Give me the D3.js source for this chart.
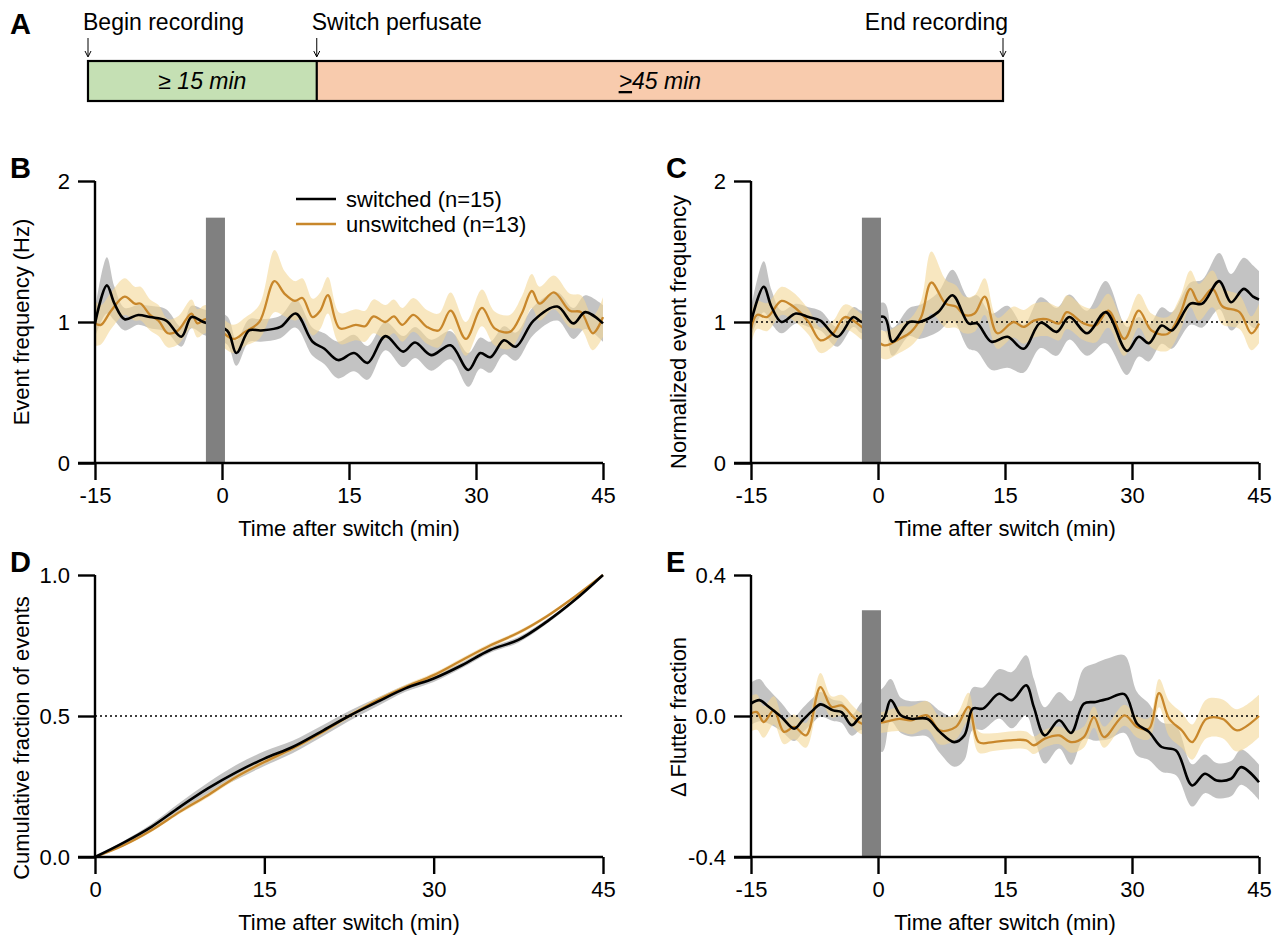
<!DOCTYPE html>
<html><head><meta charset="utf-8">
<script src="https://cdn.jsdelivr.net/npm/d3@7"></script>
<style>
body{margin:0;background:#fff;}
text{font-family:"Liberation Sans",Arial,sans-serif;fill:#000;}
</style></head>
<body>
<svg id="fig" width="1283" height="940"></svg>
<script>
// ---------------- DATA ----------------
// Panel B: event frequency (Hz)
const tB_sw = [-15,-13.6,-12.7,-11.5,-9.9,-8.5,-6.6,-4.8,-3.6,-2.2,0.6,1.7,3.2,4.6,6.9,8.7,10.7,12.1,13.7,15.6,17.2,19.3,21.4,22.8,24.7,27.0,29.1,30.5,31.7,33.3,34.7,36.8,39.6,41.5,42.9,45];
const mB_sw = [0.99,1.26,1.13,1.02,1.05,1.035,1.01,0.895,1.035,1.0,0.94,0.78,0.94,0.94,0.965,1.06,0.86,0.81,0.73,0.78,0.71,0.9,0.79,0.855,0.765,0.835,0.66,0.78,0.75,0.87,0.825,1.01,1.11,0.99,1.07,0.99];
const sB_sw = [0.1,0.2,0.12,0.08,0.07,0.08,0.08,0.07,0.08,0.09,0.1,0.09,0.08,0.08,0.08,0.1,0.1,0.11,0.13,0.13,0.12,0.1,0.11,0.11,0.11,0.1,0.12,0.11,0.11,0.1,0.1,0.1,0.1,0.11,0.12,0.13];
const tB_un = [-15,-14.3,-13.1,-11.5,-10.3,-9.6,-8.5,-7.5,-6.4,-5.2,-3.6,-2.9,-1.9,1.3,2.7,4.4,6.2,7.4,8.6,9.5,10.7,11.6,12.5,13.9,15.8,16.9,17.9,19.3,20.3,21.3,22.6,24.2,25.6,27,28.8,30.7,32.2,34,35.4,36.6,37.5,39.2,41.1,42.4,43.8,45];
const mB_un = [0.99,0.98,1.08,1.18,1.13,1.13,1.05,1.01,0.92,0.94,1.06,0.99,1.02,0.88,0.93,1.0,1.29,1.2,1.15,1.17,1.035,1.08,1.19,0.955,0.98,0.97,1.04,1.0,1.04,0.98,1.05,0.965,0.94,1.08,0.88,1.1,0.955,0.93,1.06,1.22,1.13,1.21,1.08,1.07,0.92,1.035];
const sB_un = [0.16,0.14,0.13,0.13,0.12,0.12,0.11,0.11,0.1,0.1,0.1,0.1,0.1,0.1,0.1,0.12,0.22,0.16,0.14,0.14,0.13,0.13,0.13,0.11,0.11,0.11,0.12,0.12,0.12,0.12,0.12,0.12,0.12,0.13,0.12,0.13,0.12,0.12,0.12,0.12,0.12,0.12,0.12,0.12,0.12,0.14];

// Panel C: normalized event frequency
const tC_sw = [-15,-13.5,-12.6,-11.4,-9.7,-8.2,-6.8,-4.8,-2.9,-1.9,0.75,1.7,3.7,4.9,7.1,8.8,10.7,11.7,13.4,15.3,17.2,19.2,21.1,22.6,24.7,26.9,29.4,30.8,32,33.5,34.7,36.9,38.3,40.3,41.7,43.2,44.3,45];
const mC_sw = [1.0,1.25,1.11,1.0,1.06,1.035,1.01,0.895,1.035,1.0,1.035,0.86,1.0,1.0,1.07,1.19,0.99,0.99,0.86,0.895,0.81,0.995,0.93,1.035,0.92,1.07,0.795,0.895,0.85,0.975,0.94,1.13,1.13,1.29,1.14,1.235,1.18,1.16];
const sC_sw = [0.1,0.18,0.12,0.08,0.07,0.07,0.07,0.07,0.07,0.08,0.1,0.1,0.1,0.12,0.14,0.18,0.18,0.2,0.2,0.22,0.17,0.18,0.17,0.16,0.16,0.22,0.17,0.14,0.13,0.13,0.13,0.15,0.17,0.2,0.2,0.22,0.22,0.2];
const tC_un = [-15,-14.3,-13.1,-11.4,-10,-8.2,-6.8,-5.3,-3.9,-1.9,0.75,2.5,3.9,5.1,6.3,8.0,9.2,10.2,11.4,12.6,14.1,16.0,17.2,18.4,19.9,21.4,22.3,24.3,25.7,27.2,29.1,30.8,32.3,34.2,35.7,36.9,37.9,39.5,40.7,42.7,44.1,45];
const mC_un = [0.95,1.05,1.035,1.15,1.11,1.0,0.87,0.92,1.035,0.965,0.835,0.88,0.93,1.035,1.28,1.13,1.11,1.05,1.06,1.18,0.92,1.0,0.965,1.01,1.02,0.99,1.07,0.99,0.975,1.08,0.88,1.08,0.94,0.915,1.06,1.235,1.14,1.235,1.11,1.07,0.92,0.99];
const sC_un = [0.12,0.1,0.1,0.1,0.1,0.09,0.09,0.09,0.09,0.09,0.1,0.1,0.1,0.12,0.22,0.17,0.15,0.13,0.13,0.13,0.11,0.11,0.12,0.12,0.12,0.12,0.12,0.12,0.12,0.12,0.12,0.12,0.12,0.12,0.12,0.13,0.13,0.13,0.13,0.12,0.12,0.14];

// Panel D: cumulative fraction of events
const tD = [0,2.5,5,7.5,10,12.5,15,17.5,20,22.5,25,27.5,30,32.5,35,37.5,40,42.5,45];
const mD_sw = [0,0.05,0.107,0.177,0.243,0.30,0.349,0.39,0.444,0.5,0.55,0.598,0.633,0.68,0.734,0.77,0.834,0.911,1.0];
const sD_sw = [0,0.006,0.01,0.015,0.02,0.026,0.026,0.022,0.02,0.018,0.015,0.012,0.012,0.01,0.01,0.01,0.008,0.005,0];
const mD_un = [0,0.041,0.095,0.16,0.219,0.284,0.337,0.385,0.44,0.5,0.556,0.603,0.645,0.698,0.75,0.795,0.853,0.923,1.0];
const sD_un = [0,0.004,0.006,0.007,0.008,0.008,0.008,0.008,0.008,0.008,0.008,0.008,0.008,0.008,0.008,0.007,0.006,0.004,0];

// Panel E: delta flutter fraction
const tE_sw = [-15,-14.0,-13.1,-11.4,-9.9,-8.9,-7.7,-6.8,-5.3,-4.3,-3.1,-1.9,0.5,1.5,2.7,3.9,5.8,7.3,9.0,10.2,11.2,12.4,14.3,15.8,17.5,18.4,19.7,21.4,22.8,24.3,25.7,27.2,29.1,30.6,32.0,33.5,35.2,37.1,38.6,40.0,41.7,42.9,45];
const mE_sw = [0.035,0.045,0.03,-0.003,-0.036,-0.012,0.016,0.033,0.016,0.011,-0.026,0,-0.012,0.045,0.002,-0.008,-0.008,-0.045,-0.074,-0.055,0.021,0.021,0.063,0.045,0.087,0.026,-0.055,-0.012,-0.048,0.035,0.04,0.049,0.062,-0.022,-0.045,-0.088,-0.098,-0.197,-0.164,-0.183,-0.178,-0.145,-0.188];
const sE_sw = [0.06,0.06,0.05,0.04,0.035,0.035,0.035,0.035,0.03,0.03,0.03,0.04,0.09,0.06,0.05,0.05,0.05,0.06,0.07,0.07,0.06,0.06,0.07,0.08,0.085,0.08,0.08,0.08,0.09,0.1,0.11,0.115,0.11,0.09,0.08,0.07,0.07,0.06,0.055,0.05,0.05,0.05,0.05];
const tE_un = [-15,-14.3,-13.5,-12.3,-11.1,-9.9,-8.5,-6.8,-5.5,-4.3,-2.9,-1.9,0.75,2.5,3.9,5.8,7.3,9.2,10.7,11.9,13.6,15.5,17.5,18.4,19.7,21.4,22.8,24.3,25.5,26.7,29.1,30.6,32.0,33.2,34.4,35.9,37.1,38.8,40.7,42.4,45];
const mE_un = [0.007,0.011,-0.017,0.016,-0.045,-0.031,-0.055,0.082,0.026,0.03,-0.003,-0.022,-0.017,-0.008,-0.012,0.002,-0.041,-0.031,0.026,-0.074,-0.074,-0.069,-0.069,-0.083,-0.064,-0.055,-0.074,-0.06,-0.003,-0.06,0.002,-0.031,-0.036,0.065,-0.008,-0.041,-0.074,-0.008,-0.008,-0.041,0];
const sE_un = [0.05,0.05,0.045,0.04,0.035,0.035,0.035,0.04,0.03,0.03,0.03,0.03,0.03,0.035,0.04,0.04,0.04,0.035,0.04,0.03,0.025,0.025,0.025,0.025,0.025,0.025,0.03,0.03,0.03,0.03,0.03,0.03,0.03,0.04,0.05,0.05,0.05,0.055,0.055,0.06,0.06];

// Axis ticks & labels
const xTicksTime = [-15,0,15,30,45];
const xLabelsTime = ["-15","0","15","30","45"];
const xTicksD = [0,15,30,45];
const xLabelsD = ["0","15","30","45"];
const yTicksB = [0,1,2];
const yLabelsB = ["0","1","2"];
const yTicksD = [0,0.5,1];
const yLabelsD = ["0.0","0.5","1.0"];
const yTicksE = [-0.4,0,0.4];
const yLabelsE = ["-0.4","0.0","0.4"];
const legendLabels = ["switched (n=15)","unswitched (n=13)"];
// perfusate switch period (grey bar), minutes
const switchBar = [-1.9, 0.35];

// ---------------- STYLE ----------------
const COL_SW = "#000000", COL_UN = "#c8872b";
const BAND_SW = "#bcbcbc", BAND_UN = "#f3d796";
const FS = 22;
const svg = d3.select("#fig");

function panel(o){
  const x = d3.scaleLinear().domain(o.xd).range(o.xr);
  const y = d3.scaleLinear().domain(o.yd).range(o.yr);
  const g = svg.append("g");
  const curve = d3.curveCatmullRom.alpha(0.5);
  const band = (t,m,s)=> d3.area().curve(curve).x((d,i)=>x(t[i])).y0((d,i)=>y(m[i]-s[i])).y1((d,i)=>y(m[i]+s[i]))(m);
  const line = (t,m)=> d3.line().curve(curve).x((d,i)=>x(t[i])).y((d,i)=>y(m[i]))(m);
  g.append("path").attr("d",band(o.sw[0],o.sw[1],o.sw[2])).attr("fill",BAND_SW).attr("opacity",0.9);
  g.append("path").attr("d",band(o.un[0],o.un[1],o.un[2])).attr("fill",BAND_UN).attr("opacity",0.6);
  if(o.ref!==undefined){
    g.append("line").attr("x1",x(o.refx[0])).attr("x2",x(o.refx[1])).attr("y1",y(o.ref)).attr("y2",y(o.ref))
      .attr("stroke","#000").attr("stroke-width",1.3).attr("stroke-dasharray","2,3");
  }
  g.append("path").attr("d",line(o.un[0],o.un[1])).attr("fill","none").attr("stroke",COL_UN).attr("stroke-width",2.3);
  g.append("path").attr("d",line(o.sw[0],o.sw[1])).attr("fill","none").attr("stroke",COL_SW).attr("stroke-width",2.6);
  if(o.bar){
    g.append("rect").attr("x",x(switchBar[0])).attr("width",x(switchBar[1])-x(switchBar[0]))
      .attr("y",y(o.bar)).attr("height",y(o.yd[0])-y(o.bar)).attr("fill","#808080");
  }
  const xa = g.append("g").attr("transform",`translate(0,${o.yr[0]})`)
    .call(d3.axisBottom(x).tickValues(o.xt).tickSize(17).tickSizeOuter(0).tickFormat((d,i)=>o.xl[i]).tickPadding(7));
  const ya = g.append("g").attr("transform",`translate(${o.xr[0]},0)`)
    .call(d3.axisLeft(y).tickValues(o.yt).tickSize(17).tickSizeOuter(0).tickFormat((d,i)=>o.yl[i]).tickPadding(8));
  [xa,ya].forEach(a=>{
    a.selectAll("path,line").attr("stroke","#000").attr("stroke-width",2.4);
    a.selectAll("text").attr("font-size",FS).attr("font-family","Liberation Sans, Arial, sans-serif").attr("fill","#000");
  });
  xa.select(".domain").attr("d",`M${o.xr[0]-17},0H${o.xr[1]}`);
  ya.select(".domain").attr("d",`M0,${o.yr[0]}V${o.yr[1]}`);
  g.append("text").attr("x",(o.xr[0]+o.xr[1])/2).attr("y",o.yr[0]+73).attr("text-anchor","middle").attr("font-size",FS).text("Time after switch (min)");
  g.append("text").attr("transform",`translate(${o.ytx},${o.yty}) rotate(-90)`).attr("text-anchor","middle").attr("dominant-baseline","central").attr("font-size",FS).text(o.ytitle);
  g.append("text").attr("x",o.lab[0]).attr("y",o.lab[1]).attr("font-size",29).attr("font-weight","bold").text(o.label);
  return {x,y,g};
}

// ---------- Panel A ----------
(function(){
  const xs = d3.scaleLinear().domain([-15,45]).range([88,1003]);
  const g = svg.append("g");
  g.append("rect").attr("x",xs(-15)).attr("y",61).attr("width",xs(0)-xs(-15)).attr("height",40).attr("fill","#c5e0b4");
  g.append("rect").attr("x",xs(0)).attr("y",61).attr("width",xs(45)-xs(0)).attr("height",40).attr("fill","#f8cbad");
  g.append("rect").attr("x",xs(-15)).attr("y",61).attr("width",xs(45)-xs(-15)).attr("height",40).attr("fill","none").attr("stroke","#000").attr("stroke-width",2.2);
  g.append("line").attr("x1",xs(0)).attr("x2",xs(0)).attr("y1",61).attr("y2",101).attr("stroke","#000").attr("stroke-width",2.2);
  g.append("text").attr("x",xs(-7.5)).attr("y",89).attr("text-anchor","middle").attr("font-size",23).attr("font-style","italic").text("\u2265 15 min");
  const t2 = g.append("text").attr("x",xs(22.5)).attr("y",89).attr("text-anchor","middle").attr("font-size",23).attr("font-style","italic");
  t2.append("tspan").attr("text-decoration","underline").text(">");
  t2.append("tspan").text("45 min");
  const lbl = [["Begin recording",-15,"start",-5],["Switch perfusate",0,"start",-5],["End recording",45,"end",5]];
  lbl.forEach(([s,t,a,dx])=>{
    g.append("text").attr("x",xs(t)+dx).attr("y",30).attr("text-anchor",a).attr("font-size",23).text(s);
    const ax = xs(t);
    g.append("line").attr("x1",ax).attr("x2",ax).attr("y1",38).attr("y2",56).attr("stroke","#000").attr("stroke-width",1);
    g.append("path").attr("d",`M${ax-3},51L${ax},57L${ax+3},51`).attr("fill","none").attr("stroke","#000").attr("stroke-width",1);
  });
  g.append("text").attr("x",10).attr("y",34).attr("font-size",29).attr("font-weight","bold").text("A");
})();

// ---------- Panel B ----------
const pB = panel({xd:[-15,45],xr:[95,603],yd:[0,2],yr:[463,181],xt:xTicksTime,xl:xLabelsTime,yt:yTicksB,yl:yLabelsB,
  sw:[tB_sw,mB_sw,sB_sw],un:[tB_un,mB_un,sB_un],bar:1.74,
  ytitle:"Event frequency (Hz)",ytx:21,yty:322,label:"B",lab:[10,178]});
// legend
[[COL_SW,199],[COL_UN,224]].forEach(([c,yy],i)=>{
  pB.g.append("line").attr("x1",296).attr("x2",336).attr("y1",yy).attr("y2",yy).attr("stroke",c).attr("stroke-width",2.6);
  pB.g.append("text").attr("x",346).attr("y",yy).attr("dominant-baseline","central").attr("font-size",FS).text(legendLabels[i]);
});

// ---------- Panel C ----------
panel({xd:[-15,45],xr:[751,1259],yd:[0,2],yr:[463,181],xt:xTicksTime,xl:xLabelsTime,yt:yTicksB,yl:yLabelsB,
  sw:[tC_sw,mC_sw,sC_sw],un:[tC_un,mC_un,sC_un],bar:1.74,ref:1,refx:[-15,45],
  ytitle:"Normalized event frequency",ytx:678,yty:332,label:"C",lab:[666,178]});

// ---------- Panel D ----------
panel({xd:[0,45],xr:[95,603],yd:[0,1],yr:[857,575],xt:xTicksD,xl:xLabelsD,yt:yTicksD,yl:yLabelsD,
  sw:[tD,mD_sw,sD_sw],un:[tD,mD_un,sD_un],ref:0.5,refx:[0,46.8],
  ytitle:"Cumulative fraction of events",ytx:21,yty:738,label:"D",lab:[10,572]});

// ---------- Panel E ----------
panel({xd:[-15,45],xr:[751,1259],yd:[-0.4,0.4],yr:[857,575],xt:xTicksTime,xl:xLabelsTime,yt:yTicksE,yl:yLabelsE,
  sw:[tE_sw,mE_sw,sE_sw],un:[tE_un,mE_un,sE_un],bar:0.30,ref:0,refx:[-15,45],
  ytitle:"\u0394 Flutter fraction",ytx:678,yty:717,label:"E",lab:[666,572]});
</script>
</body></html>
